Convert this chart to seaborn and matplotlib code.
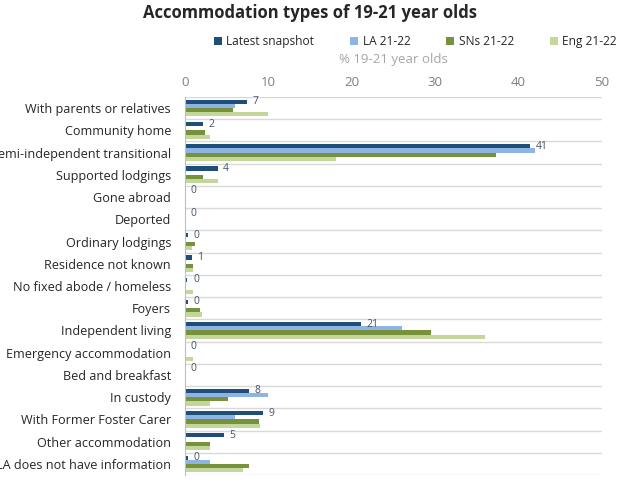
import numpy as np
import pandas as pd
import matplotlib
matplotlib.use('Agg')
import matplotlib.pyplot as plt
import seaborn as sns

# Данные (% 19-21 year olds)
categories = [
    'With parents or relatives', 'Community home', 'Semi-independent transitional',
    'Supported lodgings', 'Gone abroad', 'Deported', 'Ordinary lodgings',
    'Residence not known', 'No fixed abode / homeless', 'Foyers',
    'Independent living', 'Emergency accommodation', 'Bed and breakfast',
    'In custody', 'With Former Foster Carer', 'Other accommodation',
    'LA does not have information',
]
latest = [7.4, 2.2, 41.4, 3.9, 0, 0, 0.4, 0.8, 0.3, 0.4, 21.1, 0, 0, 7.7, 9.4, 4.7, 0.4]
la = [6.0, 0, 42.0, 0, 0, 0, 0, 0, 0, 0, 26.0, 0, 0, 10.0, 6.0, 0, 3.0]
sns_vals = [5.8, 2.4, 37.3, 2.2, 0, 0, 1.2, 1.0, 0, 1.8, 29.5, 0, 0, 5.2, 8.9, 3.0, 7.7]
eng = [10.0, 3.0, 18.1, 4.0, 0, 0, 0.9, 1.0, 1.0, 2.0, 36.0, 1.0, 0, 3.0, 9.0, 3.0, 7.0]
series = ['Latest snapshot', 'LA 21-22', 'SNs 21-22', 'Eng 21-22']
colors = ['#1F4E79', '#8DB4E2', '#76923C', '#C4D79B']

df = pd.concat([
    pd.DataFrame({'category': categories, 'value': vals, 'series': name})
    for name, vals in zip(series, [latest, la, sns_vals, eng])
], ignore_index=True)

sns.set_style('white')
plt.rcParams['font.family'] = ['Open Sans', 'DejaVu Sans']

fig = plt.figure(figsize=(6.37, 4.82), dpi=100)
ax = fig.add_axes([0.2904, 0.0145, 0.6546, 0.7843])

sns.barplot(data=df, y='category', x='value', hue='series', orient='h',
            palette=colors, width=0.75, gap=0, ax=ax, order=categories,
            hue_order=series, errorbar=None, linewidth=0, saturation=1)

# Подписи для последнего снимка
ax.bar_label(ax.containers[0], labels=[f'{round(v)}' for v in latest],
             padding=4, fontsize=7.5, color='#44546A')

ax.set_xlim(0, 50)
ax.set_ylim(len(categories) - 0.5, -0.5)
ax.xaxis.tick_top()
ax.xaxis.set_label_position('top')
ax.set_xticks([0, 10, 20, 30, 40, 50])
ax.tick_params(axis='x', length=0, labelsize=9.5, labelcolor='#7F7F7F', pad=6)
ax.tick_params(axis='y', length=0, labelsize=9.1, labelcolor='#262626', pad=10)
ax.set_xlabel('% 19-21 year olds', fontsize=9.5, color='#A6A6A6', labelpad=9)
ax.set_ylabel('')

# Горизонтальные линии между категориями
ax.set_yticks(np.arange(-0.5, len(categories)), minor=True)
ax.tick_params(axis='y', which='minor', length=0)
ax.grid(True, which='minor', axis='y', color='#D9D9D9', lw=1)
ax.grid(False, which='major')
for s in ['top', 'right', 'bottom']:
    ax.spines[s].set_visible(False)
ax.spines['left'].set_color('#BFBFBF')

sns.move_legend(ax, 'center', bbox_to_anchor=(0.652, 0.914),
                bbox_transform=fig.transFigure, ncol=4, frameon=False,
                title=None, fontsize=8.6, handlelength=0.7, handleheight=0.7,
                handletextpad=0.35, columnspacing=3.0)

fig.text(0.487, 0.972, 'Accommodation types of 19-21 year olds',
         ha='center', va='center', fontsize=12, fontweight='bold', color='#262626')

plt.savefig('out.png', dpi=100)
